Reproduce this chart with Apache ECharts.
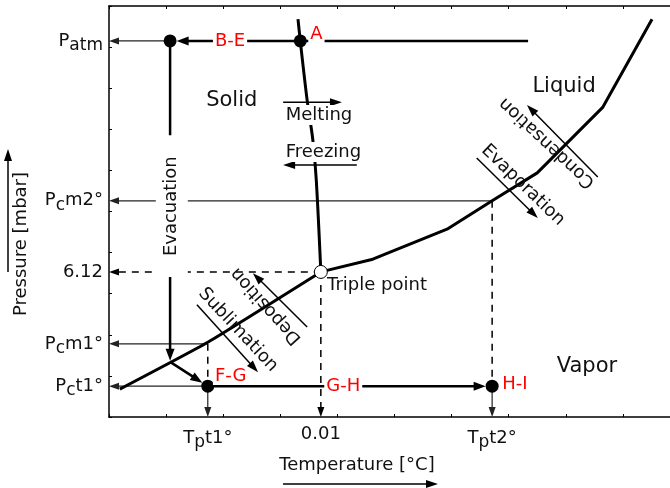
<!DOCTYPE html>
<html>
<head>
<meta charset="utf-8">
<script src="https://cdn.jsdelivr.net/npm/echarts@6/dist/echarts.min.js"></script>
<style>
html, body { margin: 0; padding: 0; background: #fff; }
#chart { width: 670px; height: 488px; }
</style>
</head>
<body>
<div id="chart"></div>
<script>
// Schematic phase diagram of water with a freeze-drying path (axis units are schematic)
const FONT = 'DejaVu Sans';

// tick labels (rich text markup: n = normal, s = lowered subscript)
const xTickValues = [1.73, 3.71, 6.71];
const xTickLabels = ['{n|T}{s|p}{n|t1°}', '{n|0.01}', '{n|T}{s|p}{n|t2°}'];
const yTickValues = [9.15, 5.26, 3.53, 1.78, 0.75];
const yTickLabels = ['{n|P}{s|atm}', '{n|P}{s|c}{n|m2°}', '{n|6.12}', '{n|P}{s|c}{n|m1°}', '{n|P}{s|c}{n|t1°}'];

// phase boundaries
const sublimationCurve = [[0.19, 0.68], [1.73, 1.82], [3.71, 3.53]];
const vaporCurve = [[3.71, 3.53], [4.62, 3.84], [5.92, 4.57], [6.71, 5.26], [7.50, 5.94], [8.65, 7.54], [9.51, 9.68]];
const meltingCurve = [[3.71, 3.53], [3.63, 5.77], [3.57, 6.74], [3.47, 7.71], [3.35, 9.15], [3.31, 9.68]];
const triplePoint = [[3.71, 3.53]];

// process states
const stateX = [1.07, 3.35, 1.73, 6.71];
const stateY = [9.15, 9.15, 0.75, 0.75];

// segments [x1, y1, x2, y2]
const referenceArrows = [
  [1.07, 9.15, 0, 9.15],
  [6.71, 5.26, 0, 5.26],
  [1.73, 1.78, 0, 1.78],
  [1.73, 0.75, 0, 0.75],
  [1.73, 0.75, 1.73, 0],
  [6.71, 0.75, 6.71, 0]
];
const tripleArrows = [[3.71, 3.53, 0, 3.53], [3.71, 3.53, 3.71, 0]];
const guideLines = [[1.73, 1.78, 1.73, 0.75], [6.71, 5.26, 6.71, 0.75]];
const pathToState = [[7.34, 9.15, 1.07, 9.15], [1.07, 1.34, 1.73, 0.75], [1.73, 0.75, 6.71, 0.75]];
const evacuationPath = [[1.07, 9.15, 1.07, 1.37]];
const transitionArrows = [
  [3.05, 7.66, 4.08, 7.66],   // melting
  [4.34, 6.13, 3.05, 6.13],   // freezing
  [3.47, 2.19, 2.52, 3.50],   // deposition
  [1.54, 2.73, 2.61, 1.09],   // sublimation
  [6.44, 6.30, 7.51, 4.84],   // evaporation
  [8.56, 5.84, 7.32, 7.59]    // condensation
];

// text annotations
const regionNames = ['Solid', 'Liquid', 'Vapor'];
const regionX = [2.15, 7.97, 8.37];
const regionY = [7.69, 8.05, 1.22];
const stageNames = ['A', 'B-E', 'F-G', 'G-H', 'H-I'];
const stageX = [3.49, 1.82, 1.82, 3.77, 6.85];
const stageY = [9.32, 9.15, 1.00, 0.75, 0.80];
const noteNames = ['Melting', 'Freezing', 'Evacuation', 'Deposition', 'Sublimation', 'Evaporation', 'Condensation', 'Triple point'];
const noteX = [3.06, 3.06, 1.10, 2.75, 2.26, 7.25, 7.67, 3.82];
const noteY = [7.35, 6.45, 5.13, 2.70, 2.12, 5.64, 6.67, 3.21];

const noteStyle = {
  'Melting':      { align: 'left', backgroundColor: '#fff', padding: [1, 2] },
  'Freezing':     { align: 'left', backgroundColor: '#fff', padding: [1, 2] },
  'Evacuation':   { rotate: 90, backgroundColor: '#fff', padding: [7, 21] },
  'Deposition':   { rotate: 132 },
  'Sublimation':  { rotate: -47 },
  'Evaporation':  { rotate: -44 },
  'Condensation': { rotate: 137 },
  'Triple point': { align: 'left' }
};

function arrowSeries(segs, st) {
  return {
    type: 'custom',
    coordinateSystem: 'cartesian2d',
    silent: true,
    z: st.z || 3,
    data: segs,
    encode: { x: [0, 2], y: [1, 3] },
    renderItem: function (params, api) {
      const a = api.coord([api.value(0), api.value(1)]);
      const b = api.coord([api.value(2), api.value(3)]);
      let dx = b[0] - a[0], dy = b[1] - a[1];
      const len = Math.hypot(dx, dy);
      dx /= len; dy /= len;
      const gap = st.gap || 0;
      const tip = [b[0] - dx * gap, b[1] - dy * gap];
      const children = [];
      const shaftEnd = st.head ? [tip[0] - dx * st.head * 0.7, tip[1] - dy * st.head * 0.7] : tip;
      children.push({
        type: 'line',
        shape: { x1: a[0], y1: a[1], x2: shaftEnd[0], y2: shaftEnd[1] },
        style: { stroke: st.color || '#000', lineWidth: st.width, lineDash: st.dash || null }
      });
      if (st.head) {
        const L = st.head, W = st.headW / 2;
        const base = [tip[0] - dx * L, tip[1] - dy * L];
        children.push({
          type: 'polygon',
          shape: { points: [tip, [base[0] - dy * W, base[1] + dx * W], [base[0] + dy * W, base[1] - dx * W]] },
          style: { fill: st.color || '#000' }
        });
      }
      return { type: 'group', children: children };
    }
  };
}

function textSeries(names, xs, ys, base, perItem) {
  return {
    type: 'scatter',
    silent: true,
    z: 10,
    symbolSize: 1,
    itemStyle: { color: 'rgba(0,0,0,0)', opacity: 1 },
    data: names.map(function (t, i) {
      return {
        value: [xs[i], ys[i]],
        label: Object.assign({ show: true, formatter: t }, perItem ? perItem[t] : {})
      };
    }),
    label: Object.assign({
      show: true, position: 'inside', align: 'center', verticalAlign: 'middle',
      fontFamily: FONT, fontSize: 18, color: '#111'
    }, base)
  };
}

const richTick = {
  n: { fontFamily: FONT, fontSize: 18, color: '#111' },
  s: { fontFamily: FONT, fontSize: 17, color: '#111', padding: [9, 0, 0, 0] }
};

function pick(values, labels) {
  return function (v) {
    let best = 0;
    for (let i = 1; i < values.length; i++) {
      if (Math.abs(values[i] - v) < Math.abs(values[best] - v)) best = i;
    }
    return labels[best];
  };
}

const axisCommon = {
  type: 'value', min: 0, interval: 1,
  axisLine: { show: true, lineStyle: { color: '#000', width: 1.5 } },
  axisTick: { show: true, inside: true, length: 3, lineStyle: { color: '#000', width: 1 } },
  splitLine: { show: false }
};

const chart = echarts.init(document.getElementById('chart'), null, { renderer: 'canvas' });
chart.setOption({
  animation: false,
  backgroundColor: '#fff',
  grid: { left: 109, right: 0, top: 6, bottom: 71 },
  xAxis: [
    Object.assign({}, axisCommon, {
      position: 'bottom', max: 9.825,
      axisLabel: { customValues: xTickValues, formatter: pick(xTickValues, xTickLabels), margin: 8, rich: richTick }
    }),
    Object.assign({}, axisCommon, { position: 'top', max: 9.825, axisLabel: { show: false } })
  ],
  yAxis: [
    Object.assign({}, axisCommon, {
      position: 'left', max: 10,
      axisLabel: { customValues: yTickValues, formatter: pick(yTickValues, yTickLabels), margin: 6, rich: richTick }
    })
  ],
  graphic: [
    { type: 'text', x: 357, y: 465, style: { text: 'Temperature [°C]', font: '18px "DejaVu Sans"', fill: '#111', align: 'center', verticalAlign: 'middle' } },
    { type: 'line', shape: { x1: 283, y1: 484, x2: 430, y2: 484 }, style: { stroke: '#000', lineWidth: 1.5 } },
    { type: 'polygon', shape: { points: [[438, 484], [426, 480], [426, 488]] }, style: { fill: '#000' } },
    { type: 'text', x: 21, y: 244, rotation: Math.PI / 2, style: { text: 'Pressure [mbar]', font: '18px "DejaVu Sans"', fill: '#111', align: 'center', verticalAlign: 'middle' } },
    { type: 'line', shape: { x1: 8, y1: 272, x2: 8, y2: 158 }, style: { stroke: '#000', lineWidth: 1.5 } },
    { type: 'polygon', shape: { points: [[8, 149], [4, 161], [12, 161]] }, style: { fill: '#000' } }
  ],
  series: [
    { type: 'line', data: sublimationCurve, symbol: 'none', silent: true, z: 4, smooth: 0.15, lineStyle: { color: '#000', width: 3 } },
    { type: 'line', data: vaporCurve, symbol: 'none', silent: true, z: 4, lineStyle: { color: '#000', width: 3 } },
    { type: 'line', data: meltingCurve, symbol: 'none', silent: true, z: 4, smooth: 0.3, lineStyle: { color: '#000', width: 3 } },
    arrowSeries(referenceArrows, { width: 1.2, color: '#222', head: 10, headW: 7 }),
    arrowSeries(tripleArrows, { width: 1.5, dash: [7, 6], head: 10, headW: 7 }),
    arrowSeries(guideLines, { width: 1.5, dash: [7, 6] }),
    arrowSeries(pathToState, { width: 2.5, head: 12, headW: 9, gap: 6.5, z: 5 }),
    arrowSeries(evacuationPath, { width: 2.5, head: 12, headW: 9, z: 5 }),
    arrowSeries(transitionArrows, { width: 1.5, head: 12, headW: 8 }),
    {
      type: 'scatter', silent: true, z: 6, symbolSize: 13,
      itemStyle: { color: '#000', opacity: 1 },
      data: stateX.map(function (x, i) { return [x, stateY[i]]; })
    },
    {
      type: 'scatter', silent: true, z: 6, symbolSize: 13,
      itemStyle: { color: '#fff', borderColor: '#000', borderWidth: 1, opacity: 1 },
      data: triplePoint
    },
    textSeries(regionNames, regionX, regionY, { fontSize: 21 }),
    textSeries(stageNames, stageX, stageY, { color: '#ff0000', align: 'left', backgroundColor: '#fff', padding: [0, 2] }),
    textSeries(noteNames, noteX, noteY, {}, noteStyle)
  ]
});
</script>
</body>
</html>
